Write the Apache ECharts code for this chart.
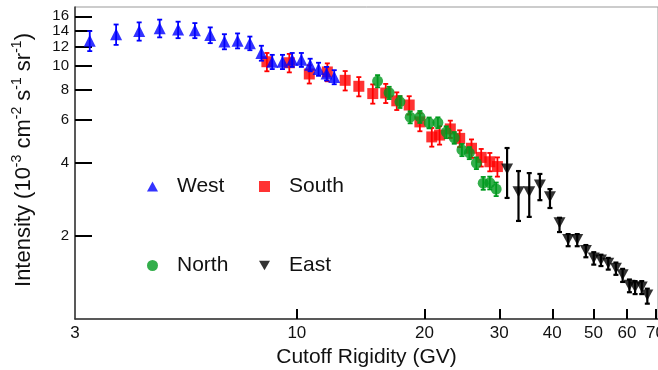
<!DOCTYPE html>
<html>
<head>
<meta charset="utf-8">
<script src="https://cdn.jsdelivr.net/npm/echarts@6/dist/echarts.min.js"></script>
<style>
html,body{margin:0;padding:0;background:#fff;}
#chart{width:658px;height:370px;}
</style>
</head>
<body>
<div id="chart"></div>
<script>
// ---- data ----
const westX = [3.25, 3.75, 4.25, 4.75, 5.25, 5.75, 6.25, 6.75, 7.25, 7.75, 8.25, 8.75, 9.25, 9.75, 10.25, 10.75, 11.25, 11.75, 12.25];
const westY = [12.7, 13.5, 13.9, 14.3, 14.1, 14.0, 13.4, 12.6, 12.7, 12.4, 11.3, 10.4, 10.4, 10.6, 10.6, 10.1, 9.7, 9.3, 9.0];
const westErr = [1.2, 1.3, 1.2, 1.2, 1.1, 1.0, 1.0, 0.9, 0.9, 0.8, 0.8, 0.7, 0.7, 0.7, 0.7, 0.6, 0.6, 0.6, 0.6];

const southX = [8.5, 9.6, 10.7, 11.8, 13.0, 14.0, 15.1, 16.2, 17.2, 18.4, 19.5, 20.8, 21.7, 23.0, 24.2, 25.8, 27.2, 28.5, 29.7];
const southY = [10.4, 10.3, 9.26, 9.44, 8.72, 8.24, 7.69, 7.73, 7.18, 6.9, 5.88, 5.10, 5.19, 5.5, 5.03, 4.58, 4.2, 4.03, 3.85];
const southErr = [0.9, 0.9, 0.8, 0.8, 0.8, 0.75, 0.7, 0.7, 0.6, 0.6, 0.5, 0.45, 0.45, 0.45, 0.4, 0.4, 0.35, 0.35, 0.35];

const northX = [15.5, 16.5, 17.5, 18.5, 19.5, 20.5, 21.5, 22.5, 23.5, 24.5, 25.5, 26.5, 27.5, 28.5, 29.5];
const northY = [8.66, 7.75, 7.11, 6.15, 6.17, 5.83, 5.84, 5.34, 5.06, 4.51, 4.38, 3.98, 3.29, 3.30, 3.11];
const northErr = [0.5, 0.45, 0.4, 0.35, 0.35, 0.3, 0.3, 0.3, 0.28, 0.26, 0.25, 0.22, 0.2, 0.2, 0.2];

const eastX = [31.3, 33.3, 35.3, 37.4, 39.5, 41.6, 43.6, 45.8, 48.0, 50.1, 52.1, 54.2, 56.5, 58.6, 60.8, 62.7, 65.0, 67.0];
const eastY = [3.76, 3.03, 3.03, 3.23, 2.89, 2.26, 1.93, 1.93, 1.74, 1.62, 1.59, 1.54, 1.47, 1.38, 1.25, 1.23, 1.23, 1.14];
const eastErrHi = [0.83, 0.66, 0.59, 0.36, 0.22, 0.11, 0.10, 0.10, 0.09, 0.09, 0.08, 0.08, 0.08, 0.08, 0.07, 0.07, 0.07, 0.07];
const eastErrLo = [0.90, 0.73, 0.64, 0.43, 0.29, 0.19, 0.12, 0.12, 0.11, 0.10, 0.09, 0.09, 0.09, 0.09, 0.08, 0.08, 0.08, 0.09];

const xRange = [3, 71];
const yRange = [0.908, 17.47];
const xTickValues = [10, 20, 30, 40, 50, 60, 70];
const xLabelValues = [3, 10, 20, 30, 40, 50, 60, 70];
const yTickValues = [2, 4, 6, 8, 10, 12, 14, 16];

// ---- helpers (log-scaled value axes) ----
const lg = Math.log10;
const fmtPow = v => String(Math.round(Math.pow(10, v)));
const FONT = '"Liberation Sans", Arial, Helvetica, sans-serif';
const C_WEST = '#0000ff', C_SOUTH = '#ff0000', C_NORTH = '#009a1e', C_EAST = '#000000';
const DOWN_TRI = 'path://M0,0L2,0L1,1.7Z';

function pts(xs, ys) { return xs.map((x, i) => [lg(x), lg(ys[i])]); }
function errData(xs, ys, lo, hi) { return xs.map((x, i) => [lg(x), lg(ys[i] - lo[i]), lg(ys[i] + hi[i])]); }

function errSeries(name, data, color, lw, z) {
  return {
    name: name + ' err',
    type: 'custom',
    data: data,
    z: z,
    silent: true,
    encode: { x: 0, y: [1, 2] },
    renderItem: function (params, api) {
      const x = api.value(0);
      const p1 = api.coord([x, api.value(1)]);
      const p2 = api.coord([x, api.value(2)]);
      const cw = 2.5;
      const st = { stroke: color, lineWidth: lw };
      return {
        type: 'group',
        children: [
          { type: 'line', shape: { x1: p1[0], y1: p1[1], x2: p2[0], y2: p2[1] }, style: st },
          { type: 'line', shape: { x1: p1[0] - cw, y1: p1[1], x2: p1[0] + cw, y2: p1[1] }, style: st },
          { type: 'line', shape: { x1: p2[0] - cw, y1: p2[1], x2: p2[0] + cw, y2: p2[1] }, style: st }
        ]
      };
    }
  };
}

function legendFor(name, icon, left, top, h) {
  return {
    data: [{ name: name, icon: icon }],
    left: left, top: top, padding: 0,
    itemWidth: 11, itemHeight: h,
    selectedMode: false,
    textStyle: { fontSize: 21, color: '#111', fontFamily: FONT, padding: [0, 0, 0, 14] }
  };
}

function yTickStyle(values) {
  return {
    axisTick: { inside: true, length: 17, customValues: values.map(lg), lineStyle: { color: '#000', width: 2 } },
    axisLabel: { customValues: values.map(lg), formatter: fmtPow, fontSize: 15, color: '#111', margin: 6,
                 fontFamily: FONT, hideOverlap: false, showMinLabel: true, showMaxLabel: true }
  };
}

// the top tick label sits on a second, identical y axis so it is not hidden by overlap logic
const yMainTicks = yTickValues.slice(0, -1);
const yTopTicks = yTickValues.slice(-1);

const chart = echarts.init(document.getElementById('chart'), null, { renderer: 'canvas' });
chart.setOption({
  animation: false,
  backgroundColor: '#fff',
  textStyle: { fontFamily: FONT },
  grid: { left: 75, right: 0, top: 7, bottom: 51, outerBoundsMode: 'none', containLabel: false,
          show: true, borderColor: '#999', borderWidth: 1 },
  legend: [
    legendFor('West', 'triangle', 147, 176, 10),
    legendFor('South', 'rect', 259, 176, 11),
    legendFor('North', 'circle', 147, 255, 11),
    legendFor('East', DOWN_TRI, 259, 255, 10)
  ],
  xAxis: {
    type: 'value', min: lg(xRange[0]), max: lg(xRange[1]),
    name: 'Cutoff Rigidity (GV)', nameLocation: 'middle', nameGap: 23,
    nameTextStyle: { fontSize: 21, color: '#111', fontFamily: FONT },
    axisLine: { onZero: false, lineStyle: { color: '#333', width: 1.5 } },
    axisTick: { inside: true, length: 10, customValues: xTickValues.map(lg), lineStyle: { color: '#000', width: 2 } },
    axisLabel: { customValues: xLabelValues.map(lg), formatter: fmtPow, fontSize: 17, color: '#111', margin: 6,
                 fontFamily: FONT, hideOverlap: false, showMinLabel: true, showMaxLabel: true },
    splitLine: { show: false }
  },
  yAxis: [
    Object.assign({
      type: 'value', min: lg(yRange[0]), max: lg(yRange[1]), position: 'left',
      name: 'Intensity (10{s|-3} cm{s|-2} s{s|-1} sr{s|-1})',
      nameLocation: 'middle', nameRotate: 90, nameGap: 37,
      nameTextStyle: {
        fontSize: 22, color: '#111', fontFamily: FONT, lineHeight: 28, padding: [0, 0, 0, 6],
        rich: { s: { fontSize: 14, lineHeight: 15, verticalAlign: 'top', color: '#111', fontFamily: FONT } }
      },
      axisLine: { onZero: false, lineStyle: { color: '#333', width: 1.5 } },
      splitLine: { show: false }
    }, yTickStyle(yMainTicks)),
    Object.assign({
      type: 'value', min: lg(yRange[0]), max: lg(yRange[1]), position: 'left', offset: 0,
      axisLine: { show: false, onZero: false },
      splitLine: { show: false }
    }, yTickStyle(yTopTicks))
  ],
  series: [
    errSeries('South', errData(southX, southY, southErr, southErr), C_SOUTH, 1.8, 2),
    { name: 'South', type: 'scatter', data: pts(southX, southY), symbol: 'rect', symbolSize: 11, itemStyle: { color: C_SOUTH }, z: 3 },
    errSeries('North', errData(northX, northY, northErr, northErr), C_NORTH, 1.8, 4),
    { name: 'North', type: 'scatter', data: pts(northX, northY), symbol: 'circle', symbolSize: 11, itemStyle: { color: C_NORTH }, z: 5 },
    errSeries('West', errData(westX, westY, westErr, westErr), C_WEST, 1.8, 6),
    { name: 'West', type: 'scatter', data: pts(westX, westY), symbol: 'triangle', symbolSize: 12, itemStyle: { color: C_WEST }, z: 7 },
    errSeries('East', errData(eastX, eastY, eastErrLo, eastErrHi), C_EAST, 2.2, 8),
    { name: 'East', type: 'scatter', data: pts(eastX, eastY), symbol: DOWN_TRI, symbolSize: [12, 11], itemStyle: { color: C_EAST }, z: 9 }
  ]
});
</script>
</body>
</html>
